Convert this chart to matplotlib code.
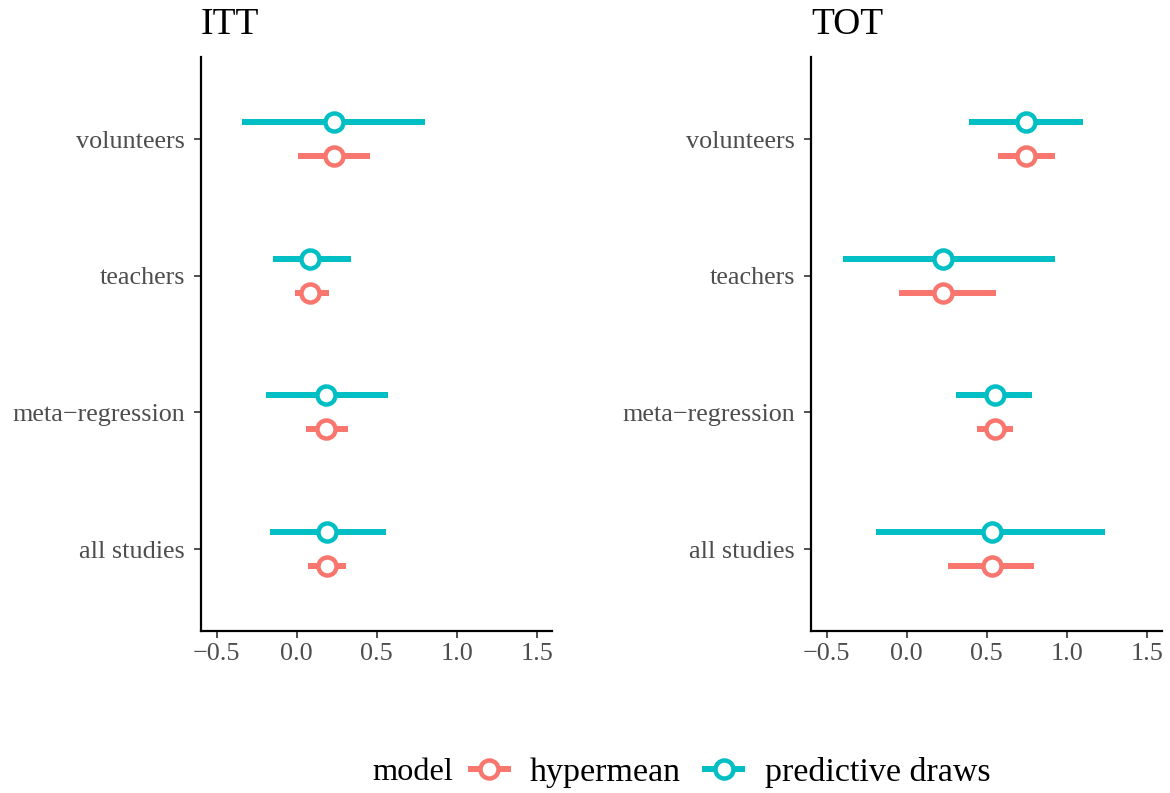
import matplotlib.pyplot as plt
from matplotlib.lines import Line2D

# categories, bottom to top
studies = ["all studies", "meta\u2212regression", "teachers", "volunteers"]

# ITT: point estimate, lower, upper
itt_hyper_mid = [0.19, 0.18, 0.08, 0.235]
itt_hyper_lo = [0.07, 0.06, -0.01, 0.006]
itt_hyper_hi = [0.31, 0.32, 0.20, 0.46]
itt_pred_mid = [0.19, 0.18, 0.08, 0.235]
itt_pred_lo = [-0.17, -0.19, -0.15, -0.34]
itt_pred_hi = [0.56, 0.57, 0.34, 0.80]

# TOT
tot_hyper_mid = [0.53, 0.55, 0.225, 0.745]
tot_hyper_lo = [0.26, 0.44, -0.05, 0.57]
tot_hyper_hi = [0.795, 0.665, 0.56, 0.925]
tot_pred_mid = [0.53, 0.55, 0.225, 0.745]
tot_pred_lo = [-0.19, 0.31, -0.40, 0.39]
tot_pred_hi = [1.24, 0.78, 0.925, 1.10]

x_ticks = [-0.5, 0.0, 0.5, 1.0, 1.5]
x_labels = ["\u22120.5", "0.0", "0.5", "1.0", "1.5"]

red = "#F8766D"
teal = "#00BFC4"

plt.rcParams['font.family'] = ['Liberation Serif', 'DejaVu Serif']

fig = plt.figure(figsize=(11.7, 7.93), dpi=100)
ax1 = fig.add_axes([0.1718, 0.2043, 0.300, 0.7235])
ax2 = fig.add_axes([0.6932, 0.2043, 0.300, 0.7235])


def draw(ax, title, h_mid, h_lo, h_hi, p_mid, p_lo, p_hi):
    for i in range(len(studies)):
        y = i + 1
        for mid, lo, hi, off, col in [(h_mid[i], h_lo[i], h_hi[i], -0.124, red),
                                      (p_mid[i], p_lo[i], p_hi[i], 0.124, teal)]:
            ax.plot([lo, hi], [y + off, y + off], color=col, lw=4.3,
                    solid_capstyle='butt', zorder=2)
            ax.plot(mid, y + off, 'o', ms=13, mfc='white', mec=col, mew=3.2,
                    zorder=3)
    ax.set_xlim(-0.598, 1.594)
    ax.set_ylim(0.4, 4.6)
    ax.set_yticks(range(1, len(studies) + 1))
    ax.set_yticklabels(studies)
    ax.set_xticks(x_ticks)
    ax.set_xticklabels(x_labels)
    ax.tick_params(labelsize=18.8, colors='#333333', labelcolor='#4D4D4D',
                   length=5, width=1.2)
    ax.tick_params(axis='y', pad=6.5)
    for s in ['top', 'right']:
        ax.spines[s].set_visible(False)
    for s in ['left', 'bottom']:
        ax.spines[s].set_linewidth(1.6)
        ax.spines[s].set_color('black')
    ax.set_title(title, loc='left', fontsize=27, pad=17)


draw(ax1, "ITT", itt_hyper_mid, itt_hyper_lo, itt_hyper_hi,
     itt_pred_mid, itt_pred_lo, itt_pred_hi)
draw(ax2, "TOT", tot_hyper_mid, tot_hyper_lo, tot_hyper_hi,
     tot_pred_mid, tot_pred_lo, tot_pred_hi)

handles = [Line2D([], [], color=red, lw=4.3, marker='o', ms=13, mfc='white',
                  mec=red, mew=3.2),
           Line2D([], [], color=teal, lw=4.3, marker='o', ms=13, mfc='white',
                  mec=teal, mew=3.2)]
fig.text(372 / 1170, 1 - 772 / 793, "model", fontsize=23.3, va='center', ha='left')
fig.legend(handles, ["hypermean", "predictive draws"], loc='center left',
           bbox_to_anchor=(440 / 1170, 1 - 772 / 793), ncol=2, frameon=False,
           fontsize=24.5, handlelength=1.1, handletextpad=0.65, columnspacing=0.7,
           borderpad=0.4)

fig.savefig("out.png", dpi=100)
